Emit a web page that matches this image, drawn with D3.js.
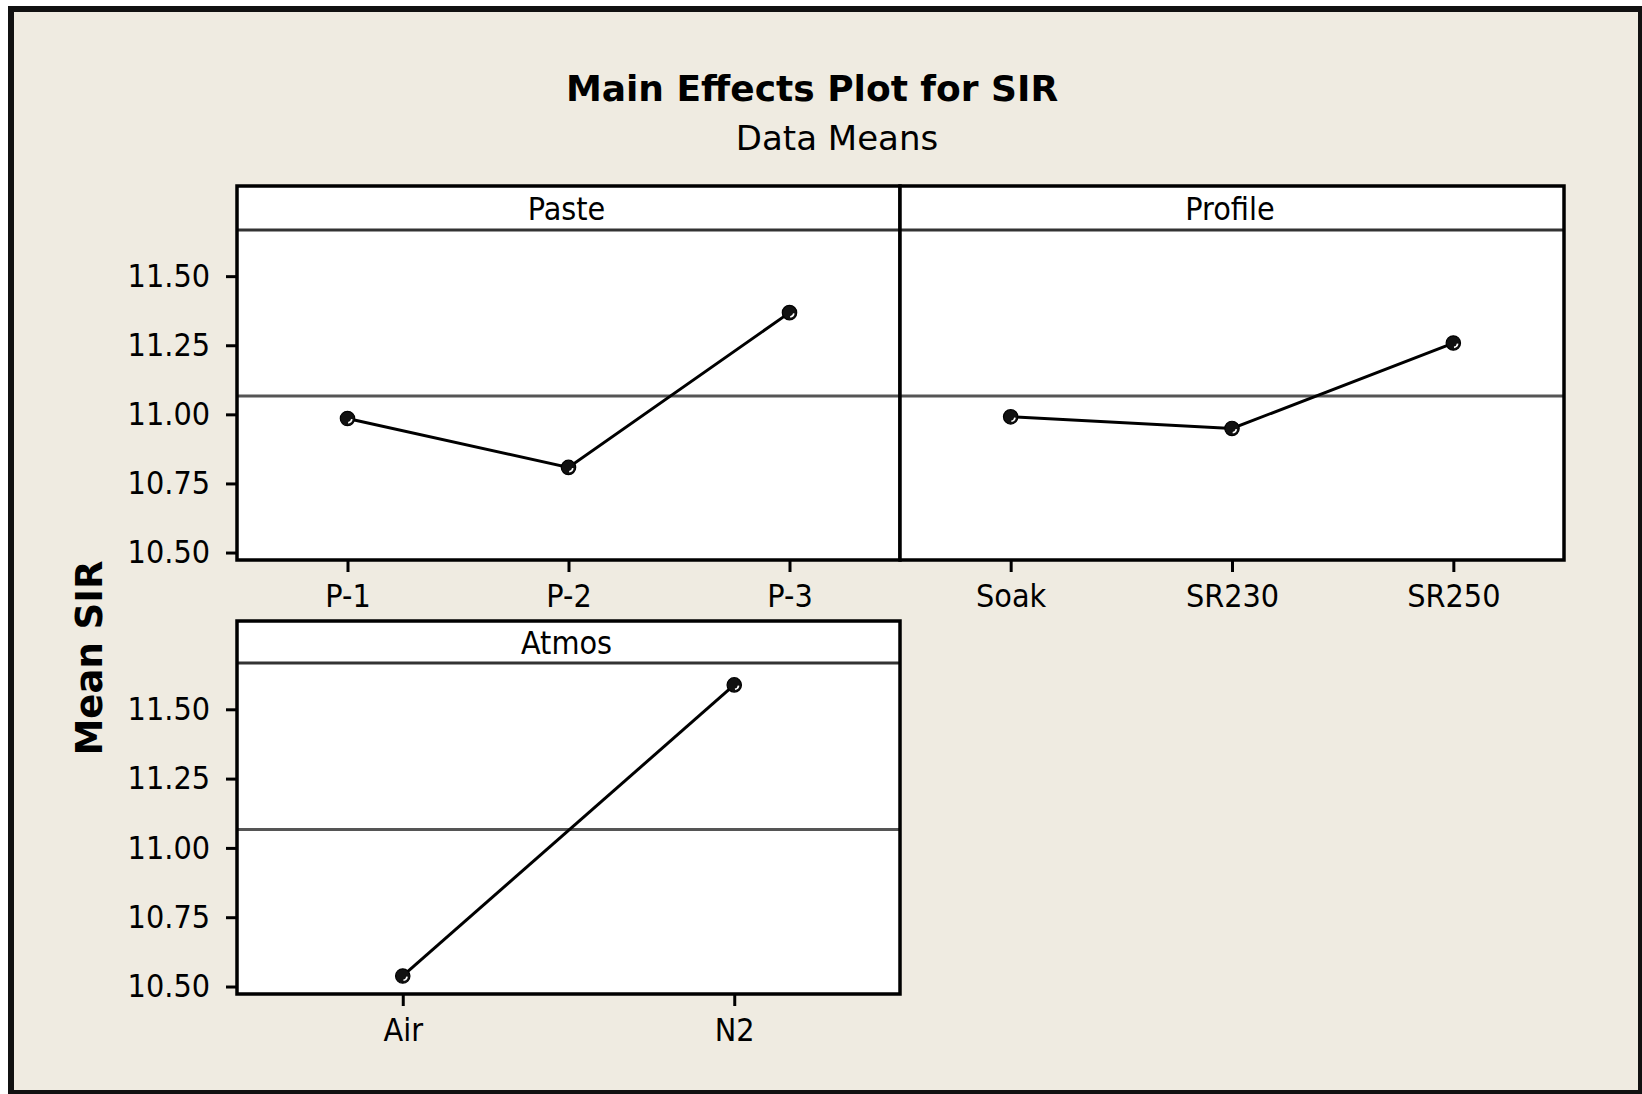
<!DOCTYPE html>
<html lang="en">
<head>
    <meta charset="UTF-8">
    <title>Main Effects Plot for SIR</title>
    <style>
        body {
            margin: 0;
            background-color: #ffffff;
        }
        svg text {
            fill: #000;
        }
        .tick-label {
            font-family: "DejaVu Sans Condensed", "DejaVu Sans", sans-serif;
            font-stretch: condensed;
            font-size: 32px;
        }
    </style>
    <script src="https://d3js.org/d3.v7.min.js"></script>
</head>
<body>
    <div id="chart"></div>

    <script>
        // data
        const pasteLevels = ["P-1", "P-2", "P-3"];
        const pasteMeans = [10.985, 10.808, 11.368];
        const profileLevels = ["Soak", "SR230", "SR250"];
        const profileMeans = [10.991, 10.949, 11.258];
        const atmosLevels = ["Air", "N2"];
        const atmosMeans = [10.538, 11.588];
        const grandMean = 11.066;
        const yTicks = [10.50, 10.75, 11.00, 11.25, 11.50];
        const yDomain = [10.473, 11.667];

        const width = 1642;
        const height = 1094;

        const svg = d3.select("#chart")
            .append("svg")
            .attr("width", width)
            .attr("height", height);

        // beige background with dark frame
        svg.append("rect")
            .attr("x", 11).attr("y", 9)
            .attr("width", 1630).attr("height", 1084)
            .attr("fill", "#efebe1")
            .attr("stroke", "#111")
            .attr("stroke-width", 6);

        svg.append("text")
            .attr("x", 812).attr("y", 101)
            .attr("text-anchor", "middle")
            .style("font-family", "'DejaVu Sans', sans-serif")
            .style("font-weight", "bold")
            .style("font-size", "36px")
            .text("Main Effects Plot for SIR");

        svg.append("text")
            .attr("x", 837).attr("y", 150)
            .attr("text-anchor", "middle")
            .style("font-family", "'DejaVu Sans', sans-serif")
            .style("font-size", "34px")
            .text("Data Means");

        svg.append("text")
            .attr("transform", "translate(102,658) rotate(-90)")
            .attr("text-anchor", "middle")
            .style("font-family", "'DejaVu Sans', sans-serif")
            .style("font-weight", "bold")
            .style("font-size", "37px")
            .text("Mean SIR");

        // panel layout
        const panels = [
            { name: "Paste", levels: pasteLevels, means: pasteMeans,
              x0: 237, x1: 900, top: 186, strip: 230, bottom: 560, yAxis: true },
            { name: "Profile", levels: profileLevels, means: profileMeans,
              x0: 900, x1: 1564, top: 186, strip: 230, bottom: 560, yAxis: false },
            { name: "Atmos", levels: atmosLevels, means: atmosMeans,
              x0: 237, x1: 900, top: 621, strip: 663, bottom: 994, yAxis: true }
        ];

        const markerGlint = d3.arc()
            .innerRadius(3.6).outerRadius(5.2)
            .startAngle(Math.PI * 0.55).endAngle(Math.PI * 0.95);

        panels.forEach(p => {
            const x = d3.scalePoint()
                .domain(p.levels)
                .range([p.x0, p.x1])
                .padding(0.5);
            const y = d3.scaleLinear()
                .domain(yDomain)
                .range([p.bottom, p.strip]);

            const g = svg.append("g");

            g.append("rect")
                .attr("x", p.x0).attr("y", p.top)
                .attr("width", p.x1 - p.x0).attr("height", p.bottom - p.top)
                .attr("fill", "#fff");

            // grand mean reference
            g.append("line")
                .attr("x1", p.x0).attr("x2", p.x1)
                .attr("y1", y(grandMean)).attr("y2", y(grandMean))
                .attr("stroke", "#555").attr("stroke-width", 3);

            const pts = p.levels.map((lv, i) => [x(lv), y(p.means[i])]);

            g.append("path")
                .attr("d", d3.line()(pts))
                .attr("fill", "none")
                .attr("stroke", "#000")
                .attr("stroke-width", 3);

            const m = g.selectAll(".marker")
                .data(pts)
                .enter().append("g")
                .attr("class", "marker")
                .attr("transform", d => `translate(${d[0]},${d[1]})`);
            m.append("circle")
                .attr("r", 7.2)
                .attr("fill", "#111")
                .attr("stroke", "#000")
                .attr("stroke-width", 1.2);
            m.append("path")
                .attr("d", markerGlint)
                .attr("fill", "#fff");

            // strip
            g.append("line")
                .attr("x1", p.x0).attr("x2", p.x1)
                .attr("y1", p.strip).attr("y2", p.strip)
                .attr("stroke", "#333").attr("stroke-width", 3);
            g.append("text")
                .attr("class", "tick-label")
                .attr("x", (p.x0 + p.x1) / 2 - 2)
                .attr("y", (p.top + p.strip) / 2 + 12)
                .attr("text-anchor", "middle")
                .text(p.name);

            g.append("rect")
                .attr("x", p.x0).attr("y", p.top)
                .attr("width", p.x1 - p.x0).attr("height", p.bottom - p.top)
                .attr("fill", "none")
                .attr("stroke", "#000")
                .attr("stroke-width", 3.5);

            const xAxis = g.append("g")
                .attr("transform", `translate(0,${p.bottom})`)
                .call(d3.axisBottom(x).tickSize(12).tickPadding(12));
            xAxis.select(".domain").remove();
            xAxis.selectAll("line").attr("stroke", "#000").attr("stroke-width", 3);
            xAxis.selectAll("text").attr("class", "tick-label");

            if (p.yAxis) {
                const yAxis = g.append("g")
                    .attr("transform", `translate(${p.x0},0)`)
                    .call(d3.axisLeft(y)
                        .tickValues(yTicks)
                        .tickFormat(d3.format(".2f"))
                        .tickSize(11)
                        .tickPadding(16));
                yAxis.select(".domain").remove();
                yAxis.selectAll("line").attr("stroke", "#000").attr("stroke-width", 3);
                yAxis.selectAll("text").attr("class", "tick-label");
            }
        });
    </script>
</body>
</html>
